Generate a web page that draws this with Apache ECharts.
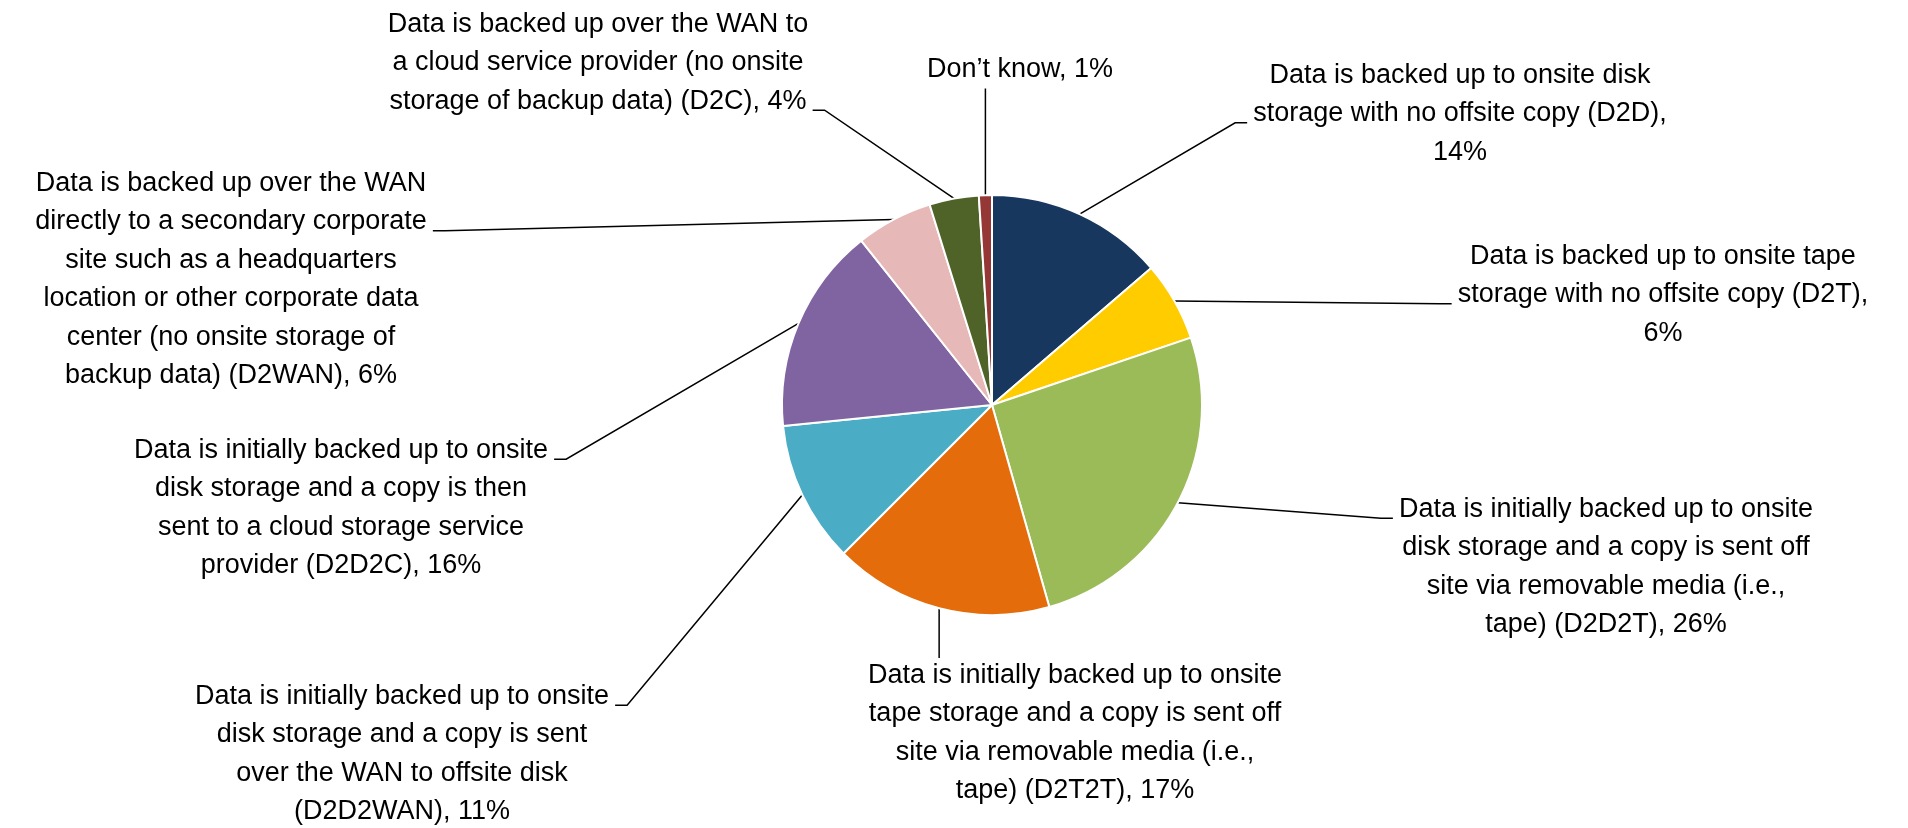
<!DOCTYPE html>
<html>
<head>
<meta charset="utf-8">
<script src="https://cdn.jsdelivr.net/npm/echarts@6/dist/echarts.min.js"></script>
<style>
  html, body { margin: 0; padding: 0; background: #fff; }
  #chart { width: 1908px; height: 828px; }
</style>
</head>
<body>
<div id="chart"></div>
<script>
// ---- Data ----
const categories = [
  'Data is backed up to onsite disk\nstorage with no offsite copy (D2D)',
  'Data is backed up to onsite tape\nstorage with no offsite copy (D2T)',
  'Data is initially backed up to onsite\ndisk storage and a copy is sent off\nsite via removable media (i.e.,\ntape) (D2D2T)',
  'Data is initially backed up to onsite\ntape storage and a copy is sent off\nsite via removable media (i.e.,\ntape) (D2T2T)',
  'Data is initially backed up to onsite\ndisk storage and a copy is sent\nover the WAN to offsite disk\n(D2D2WAN)',
  'Data is initially backed up to onsite\ndisk storage and a copy is then\nsent to a cloud storage service\nprovider (D2D2C)',
  'Data is backed up over the WAN\ndirectly to a secondary corporate\nsite such as a headquarters\nlocation or other corporate data\ncenter (no onsite storage of\nbackup data) (D2WAN)',
  'Data is backed up over the WAN to\na cloud service provider (no onsite\nstorage of backup data) (D2C)',
  'Don\u2019t know'
];
const values = [13.7, 6.1, 25.8, 16.9, 10.9, 15.9, 5.9, 3.8, 1.0];
const percentLabels = ['14%', '6%', '26%', '17%', '11%', '16%', '6%', '4%', '1%'];
const colors = ['#17375E', '#FFCC00', '#9BBB59', '#E46C0A', '#4BACC6', '#8064A2', '#E6B9B8', '#4F6228', '#953735'];

// ---- Label layout (positions / leader attachment) ----
const FONT_SIZE = 27;
const FONT_FAMILY = '"Liberation Sans", Arial, sans-serif';
const LINE_H = 38.5;
const labelPlace = [
  { cx: 1460, top: 56,  side: 'left',   line: 1, pctBreak: true },
  { cx: 1663, top: 237, side: 'left',   line: 1, pctBreak: true },
  { cx: 1606, top: 490, side: 'left',   line: 0 },
  { cx: 1075, top: 656, side: 'top' },
  { cx: 402,  top: 677, side: 'right',  line: 0 },
  { cx: 341,  top: 431, side: 'right',  line: 0 },
  { cx: 231,  top: 164, side: 'right',  line: 1 },
  { cx: 598,  top: 5,   side: 'right',  line: 2 },
  { cx: 1020, top: 50,  side: 'bottom' }
];

const measureCtx = document.createElement('canvas').getContext('2d');
measureCtx.font = FONT_SIZE + 'px ' + FONT_FAMILY;

function labelText(i) {
  return categories[i] + (labelPlace[i].pctBreak ? ',\n' : ', ') + percentLabels[i];
}

const chart = echarts.init(document.getElementById('chart'));
chart.setOption({
  animation: false,
  backgroundColor: '#fff',
  series: [{
    type: 'pie',
    center: [992, 405],
    radius: 210,
    startAngle: 90,
    clockwise: true,
    avoidLabelOverlap: false,
    silent: true,
    itemStyle: { borderColor: '#fff', borderWidth: 2 },
    label: {
      show: true,
      position: 'outside',
      color: '#000',
      fontSize: FONT_SIZE,
      fontFamily: FONT_FAMILY,
      lineHeight: LINE_H,
      align: 'center',
      formatter: p => labelText(p.dataIndex)
    },
    labelLine: {
      show: true,
      length: 20,
      length2: 10,
      lineStyle: { color: '#000', width: 1.5 }
    },
    labelLayout: function (params) {
      const i = params.dataIndex;
      const L = labelPlace[i];
      const anchor = params.labelLinePoints ? params.labelLinePoints[0] : [992, 405];
      const lines = labelText(i).split('\n');
      const h = lines.length * LINE_H;
      let pts;
      if (L.side === 'top') {
        pts = [anchor, [anchor[0], L.top + 2], [anchor[0], L.top + 2]];
      } else if (L.side === 'bottom') {
        pts = [anchor, [anchor[0], L.top + h], [anchor[0], L.top + h]];
      } else {
        const lw = measureCtx.measureText(lines[L.line]).width;
        const y = L.top + L.line * LINE_H + LINE_H * 0.5 + 9;
        if (L.side === 'left') {
          const x = L.cx - lw / 2 - 6;
          pts = [anchor, [x - 12, y], [x, y]];
        } else {
          const x = L.cx + lw / 2 + 6;
          pts = [anchor, [x + 12, y], [x, y]];
        }
      }
      return {
        x: L.cx,
        y: L.top,
        align: 'center',
        verticalAlign: 'top',
        labelLinePoints: pts
      };
    },
    data: values.map((v, i) => ({
      name: categories[i],
      value: v,
      itemStyle: { color: colors[i] }
    }))
  }]
});
</script>
</body>
</html>
